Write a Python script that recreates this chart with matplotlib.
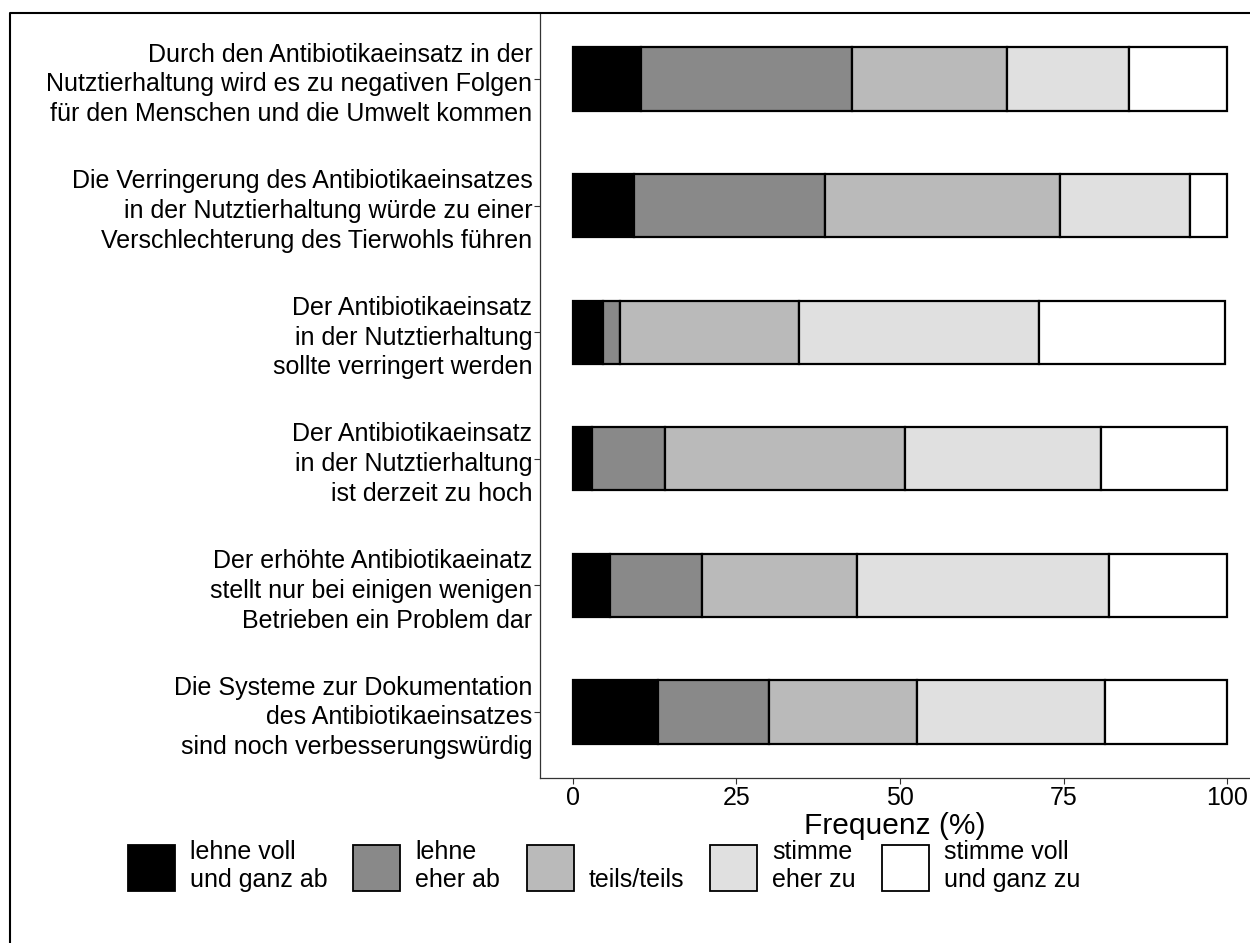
import matplotlib.pyplot as plt
from matplotlib.patches import Patch
from matplotlib.lines import Line2D

plt.rcParams['font.family'] = ['Liberation Sans', 'DejaVu Sans']

# Data
statements = [
    'Durch den Antibiotikaeinsatz in der\nNutztierhaltung wird es zu negativen Folgen\nfür den Menschen und die Umwelt kommen',
    'Die Verringerung des Antibiotikaeinsatzes\nin der Nutztierhaltung würde zu einer\nVerschlechterung des Tierwohls führen',
    'Der Antibiotikaeinsatz\nin der Nutztierhaltung\nsollte verringert werden',
    'Der Antibiotikaeinsatz\nin der Nutztierhaltung\nist derzeit zu hoch',
    'Der erhöhte Antibiotikaeinatz\nstellt nur bei einigen wenigen\nBetrieben ein Problem dar',
    'Die Systeme zur Dokumentation\ndes Antibiotikaeinsatzes\nsind noch verbesserungswürdig',
]
answers = ['lehne voll\nund ganz ab', 'lehne\neher ab', '\nteils/teils', 'stimme\neher zu', 'stimme voll\nund ganz zu']

lehne_voll = [10.4, 9.3, 4.6, 3.0, 5.7, 13.0]
lehne_eher = [32.3, 29.3, 2.7, 11.1, 14.0, 17.0]
teils = [23.6, 35.8, 27.3, 36.7, 23.7, 22.6]
stimme_eher = [18.7, 19.9, 36.7, 29.9, 38.6, 28.8]
stimme_voll = [15.0, 5.7, 28.4, 19.3, 18.0, 18.6]

series = [lehne_voll, lehne_eher, teils, stimme_eher, stimme_voll]
colors = ['#000000', '#898989', '#bababa', '#e0e0e0', '#ffffff']

# Plot setup
fig = plt.figure(figsize=(12.5, 9.43), dpi=100)
fig.patch.set_facecolor('white')
ax = fig.add_axes([540 / 1250, 1 - 778 / 943, 1 - 540 / 1250, (778 - 13) / 943])

ypos = list(range(len(statements)))
left = [0.0] * len(statements)
for vals, col in zip(series, colors):
    ax.barh(ypos, vals, left=left, height=0.5, color=col, edgecolor='black', linewidth=1.6)
    left = [l + v for l, v in zip(left, vals)]

ax.set_xlim(-5, 103.5)
ax.set_ylim(5.52, -0.52)
ax.set_xticks([0, 25, 50, 75, 100])
ax.set_yticks(ypos)
ax.set_yticklabels(statements, fontsize=18, linespacing=1.3)
ax.tick_params(axis='both', length=4, width=0.8, color='#333333', labelcolor='black')
ax.tick_params(axis='y', pad=1.5)
ax.tick_params(axis='x', labelsize=18, pad=2)
ax.set_xlabel('Frequenz (%)', fontsize=21.5, labelpad=1)

for s in ['top', 'right']:
    ax.spines[s].set_visible(False)
for s in ['left', 'bottom']:
    ax.spines[s].set_color('#333333')
    ax.spines[s].set_linewidth(0.9)

# figure border (left and top edge visible)
fig.add_artist(Line2D([10 / 1250, 10 / 1250, 1], [0, 1 - 13 / 943, 1 - 13 / 943],
                      transform=fig.transFigure, color='black', linewidth=1.5))

# Legend
handles = [Patch(facecolor=c, edgecolor='black', linewidth=1.3) for c in colors]
fig.legend(handles, answers, ncol=5, loc='center', bbox_to_anchor=(604 / 1250, 1 - 866 / 943),
           frameon=False, fontsize=18, handlelength=1.88, handleheight=2.45, handletextpad=0.6,
           columnspacing=1.05, borderpad=0, labelspacing=0)

plt.savefig('out.png', dpi=100)
